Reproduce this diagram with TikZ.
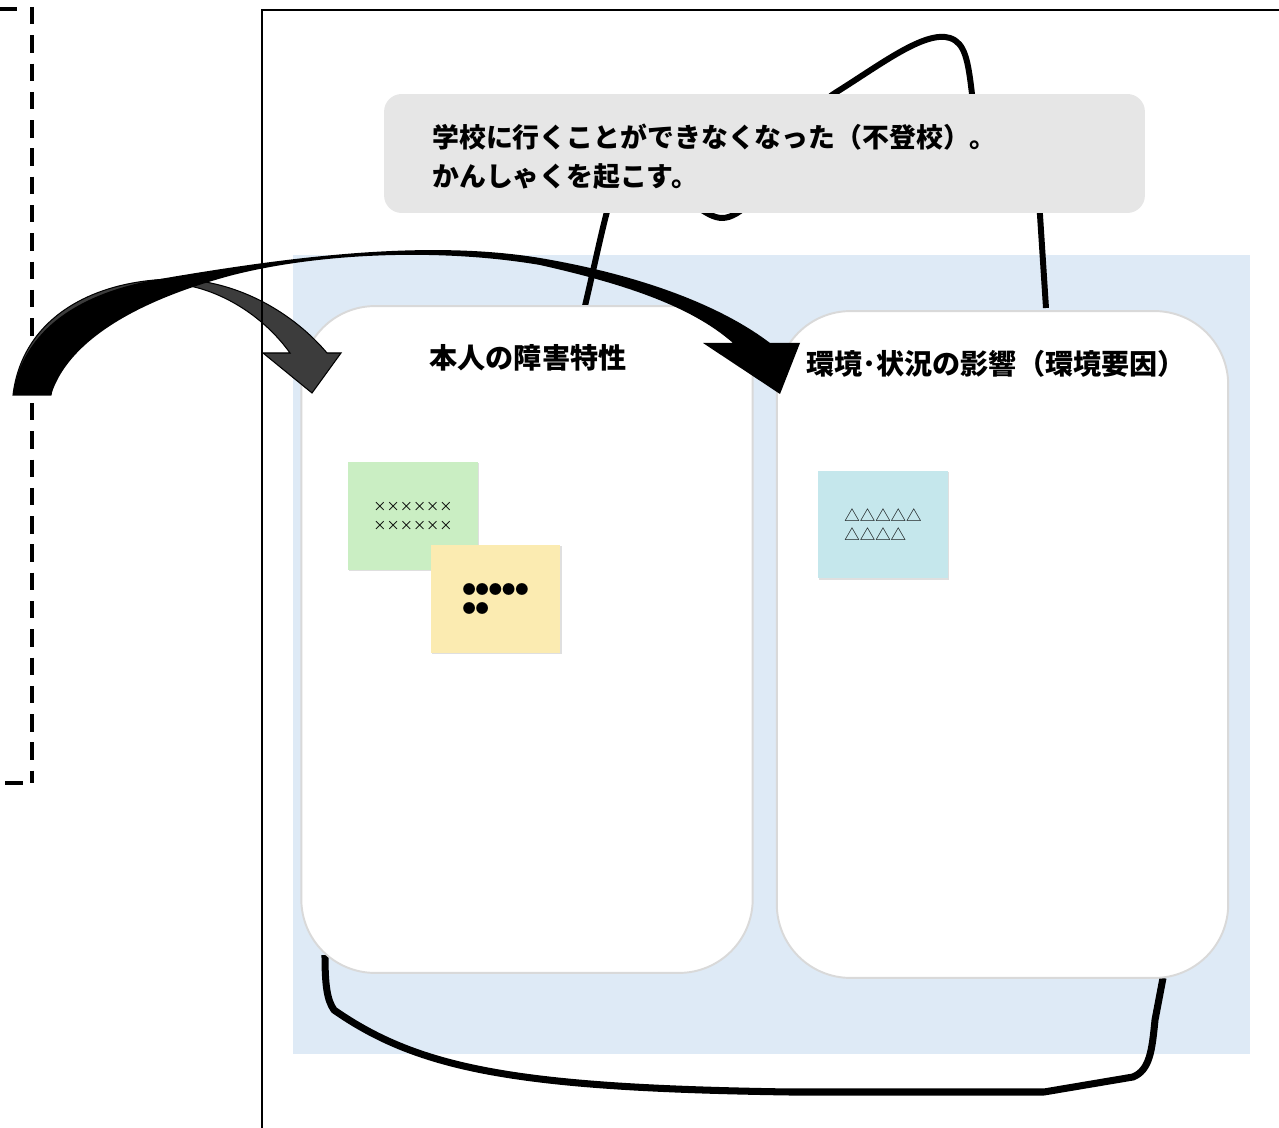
\documentclass[tikz,border=0pt]{standalone}
\usepackage{fontspec}
\newfontfamily\jpfont{Noto Sans CJK JP}
\usetikzlibrary{shadows}
\definecolor{bgblue}{HTML}{DEEAF6}
\definecolor{causegrey}{HTML}{E6E6E6}
\definecolor{boxedge}{HTML}{D9D9D9}
\definecolor{arrowgrey}{HTML}{3C3C3C}
\definecolor{notegreen}{HTML}{CAEEC3}
\definecolor{noteyellow}{HTML}{FBEBB1}
\definecolor{noteblue}{HTML}{C5E7EC}
\begin{document}
\begin{tikzpicture}
  [x=0.02cm,y=-0.02cm,every node/.style={font=\jpfont}]
  \tikzstyle{whitebox} = [draw=boxedge,line width=1.1pt,fill=white,rounded corners=42pt,minimum width=9.03cm,minimum height=13.34cm]
  \tikzstyle{boxlabel} = [font=\jpfont\bfseries\fontsize{16pt}{18pt}\selectfont,inner sep=0pt]
  \tikzstyle{stickynote} = [minimum width=2.6cm,minimum height=2.16cm,align=left,inner sep=0pt,drop shadow={shadow xshift=0.8pt,shadow yshift=-0.8pt,opacity=0.25}]
  \tikzstyle{loopline} = [line width=3.4pt,line join=round]
  \tikzstyle{dashline} = [line width=2.3pt,dash pattern=on 9.9pt off 6.2pt]
  \useasboundingbox (0,0) rectangle (1279,1128);

  % dashed frame on the left
  \draw[dashline] (32,7) -- (32,783);
  \draw[line width=2.3pt] (0,9) -- (17,9);
  \draw[line width=2.3pt] (5,783) -- (23,783);

  % background
  \fill[bgblue] (293,255) rectangle (1250,1054);

  % end points of the loops
  \coordinate (ltop) at (585,306);
  \coordinate (rtop) at (1046,308);
  \coordinate (lbot) at (325,955);
  \coordinate (rbot) at (1163,978);
  \draw[loopline] (ltop) .. controls (598,250) and (605,215) .. (612,195)
    .. controls (640,130) and (690,218) .. (722,218)
    .. controls (760,218) and (800,115) .. (835,93)
    .. controls (880,65) and (925,30) .. (950,38)
    .. controls (965,43) and (968,60) .. (972,94)
    .. controls (980,150) and (1038,180) .. (1040,215) -- (rtop);
  \draw[line width=4pt,line join=round] (lbot) .. controls (325,985) and (327,1000) .. (334,1010)
    .. controls (420,1070) and (520,1088) .. (790,1092) -- (1044,1092) -- (1133,1077)
    .. controls (1150,1070) and (1152,1050) .. (1155,1020) -- (rbot);

  % two columns
  \node[whitebox] (lbox) at (527,639.5) {};
  \node[whitebox] (rbox) at (1002.5,644.5) {};
  \node[boxlabel] (llabel) at (528,358) {本人の障害特性};
  \node[boxlabel] (rlabel) at (996,364) {環境･状況の影響（環境要因）};

  % cause
  \node[fill=causegrey,rounded corners=10pt,minimum width=15.22cm,minimum height=2.38cm,inner sep=0pt] (cause) at (764.5,153.5) {};
  \node[anchor=west,align=left,inner sep=0pt,font=\jpfont\bfseries\fontsize{15.3pt}{22pt}\selectfont] (causetext) at (432,157)
    {学校に行くことができなくなった（不登校）。\\かんしゃくを起こす。};

  % sticky notes
  \foreach \nm/\x/\y/\col/\fs/\txt in {xnote/413/516/notegreen/7.5/{××××××\\××××××},
      dotnote/495.5/599/noteyellow/7.5/{●●●●●\\●●},
      trinote/883/524.5/noteblue/8.8/{△△△△△\\△△△△}}
    \node[stickynote,fill=\col,font=\jpfont\fontsize{\fs pt}{10.8pt}\selectfont] (\nm) at (\x,\y) {\txt};

  % curved arrows
  \filldraw[fill=arrowgrey,draw=black,line width=0.6pt]
    (13,395) .. controls (22,320) and (90,280) .. (175,279)
    .. controls (240,280) and (295,315) .. (327,353)
    -- (341,353) -- (312,393) -- (263,353) -- (290,353)
    .. controls (265,318) and (225,292) .. (185,285)
    .. controls (120,285) and (62,330) .. (51,395) -- cycle;
  \fill[black]
    (13,395) .. controls (22,330) and (80,292) .. (160,279)
    .. controls (300,255) and (430,240) .. (540,258)
    .. controls (640,275) and (720,305) .. (770,343)
    -- (800,343) -- (780,394) -- (703,343) -- (733,343)
    .. controls (690,305) and (620,283) .. (540,265)
    .. controls (440,248) and (320,253) .. (233,275)
    .. controls (150,297) and (70,335) .. (51,395) -- cycle;

  % outer frame
  \draw[line width=1.1pt] (262,1130) -- (262,10) -- (1280,10);
\end{tikzpicture}
\end{document}
